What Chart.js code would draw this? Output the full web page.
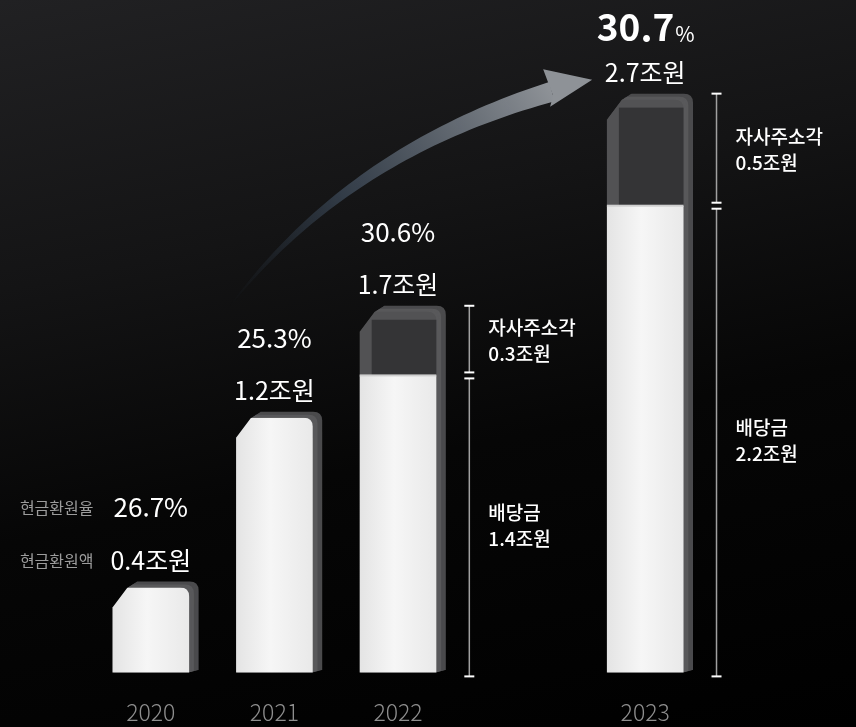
<!DOCTYPE html>
<html lang="ko">
<head>
<meta charset="utf-8">
<title>현금환원</title>
<script src="https://cdn.jsdelivr.net/npm/chart.js@4.4.1/dist/chart.umd.min.js"></script>
<style>
  html, body { margin: 0; padding: 0; }
  body {
    width: 856px; height: 727px; overflow: hidden;
    background: linear-gradient(168deg, #212123 0%, #141415 32%, #060606 60%, #000 100%);
  }
  #wrap { position: relative; width: 856px; height: 727px; }
</style>
</head>
<body>
<div id="wrap"><canvas id="returnChart"></canvas></div>
<script>
// Data (조원, %) - the empty slot keeps room for the 2022 brackets
const years = ['2020', '2021', '2022', '', '2023'];
const dividend = [0.4, 1.2, 1.4, null, 2.2];
const buyback = [null, null, 0.3, null, 0.5];
const returnRate = [26.7, 25.3, 30.6, null, 30.7];

const FONT = '"Noto Sans CJK KR", "Noto Sans", sans-serif';

function barShape(ctx, xl, xr, top, base) {
    const cx = 15, cy = 20, r = 9;
    ctx.beginPath();
    ctx.moveTo(xl, base);
    ctx.lineTo(xl, top + cy);
    ctx.lineTo(xl + cx, top);
    ctx.lineTo(xr - r, top);
    ctx.quadraticCurveTo(xr, top, xr, top + r);
    ctx.lineTo(xr, base);
    ctx.closePath();
}

function drawArrow(ctx, p0, c, p2) {
    const pt = t => ({
        x: (1 - t) * (1 - t) * p0.x + 2 * (1 - t) * t * c.x + t * t * p2.x,
        y: (1 - t) * (1 - t) * p0.y + 2 * (1 - t) * t * c.y + t * t * p2.y
    });
    const tan = t => {
        const dx = 2 * (1 - t) * (c.x - p0.x) + 2 * t * (p2.x - c.x);
        const dy = 2 * (1 - t) * (c.y - p0.y) + 2 * t * (p2.y - c.y);
        const l = Math.hypot(dx, dy);
        return { x: dx / l, y: dy / l };
    };
    const left = [], right = [];
    for (let i = 0; i <= 50; i++) {
        const t = i / 50, p = pt(t), d = tan(t);
        const hw = 0.5 + 9.5 * t;
        left.push({ x: p.x - d.y * hw, y: p.y + d.x * hw });
        right.push({ x: p.x + d.y * hw, y: p.y - d.x * hw });
    }
    const grad = ctx.createLinearGradient(p0.x, p0.y, p2.x, p2.y);
    grad.addColorStop(0, 'rgba(40,52,66,0)');
    grad.addColorStop(0.4, 'rgba(58,70,84,0.8)');
    grad.addColorStop(1, '#8e9297');
    ctx.fillStyle = grad;
    ctx.beginPath();
    ctx.moveTo(left[0].x, left[0].y);
    left.forEach(p => ctx.lineTo(p.x, p.y));
    for (let i = right.length - 1; i >= 0; i--) ctx.lineTo(right[i].x, right[i].y);
    ctx.closePath();
    ctx.fill();
    // arrow head
    const e = pt(1), d = tan(1);
    const tip = { x: e.x + d.x * 42, y: e.y + d.y * 42 };
    ctx.fillStyle = '#8e9297';
    ctx.beginPath();
    ctx.moveTo(tip.x, tip.y);
    ctx.lineTo(e.x - d.y * 14 - d.x * 6, e.y + d.x * 14 - d.y * 6);
    ctx.lineTo(e.x - d.y * 4, e.y + d.x * 4);
    ctx.lineTo(e.x + d.y * 24 - d.x * 2, e.y - d.x * 24 - d.y * 2);
    ctx.closePath();
    ctx.fill();
}

const bars3d = {
    id: 'bars3d',
    afterDatasetsDraw(chart) {
        const ctx = chart.ctx;
        const divMeta = chart.getDatasetMeta(0);
        const bbMeta = chart.getDatasetMeta(1);
        const geo = [];
        years.forEach((yr, i) => {
            if (dividend[i] == null) { geo.push(null); return; }
            const d = divMeta.data[i];
            const b = buyback[i] != null ? bbMeta.data[i] : null;
            const w = d.width, xl = d.x - w / 2, xr = d.x + w / 2, base = d.base;
            const top = b ? b.y : d.y;
            geo.push({ x: d.x, xl, xr, base, top, split: b ? b.base : null });

            ctx.save();
            // extrusion (side + top rim)
            for (let k = 10; k >= 1; k--) {
                ctx.fillStyle = k > 5 ? '#4b4b4d' : '#59595b';
                barShape(ctx, xl + k * 0.95, xr + k * 0.95, top - k * 0.6, base - k * 0.25);
                ctx.fill();
            }
            // white front (dividend)
            ctx.save();
            ctx.beginPath();
            ctx.rect(xl - 2, d.y, w + 4, base - d.y + 2);
            ctx.clip();
            const g = ctx.createLinearGradient(xl, 0, xr, 0);
            g.addColorStop(0, '#e4e4e4');
            g.addColorStop(0.45, '#f6f6f6');
            g.addColorStop(1, '#e9e9e9');
            ctx.fillStyle = g;
            barShape(ctx, xl, xr, top, base);
            ctx.fill();
            ctx.restore();
            // dark glass front (buyback)
            if (b) {
                ctx.save();
                ctx.beginPath();
                ctx.rect(xl - 2, b.y - 2, w + 4, b.base - b.y + 2);
                ctx.clip();
                ctx.fillStyle = '#525254';
                barShape(ctx, xl, xr, top, b.base);
                ctx.fill();
                ctx.fillStyle = '#343436';
                ctx.fillRect(xl + 12, top + 8, w - 12, b.base - top - 8);
                ctx.restore();
                ctx.fillStyle = '#cfcfcf';
                ctx.fillRect(xl, b.base - 1, w, 2);
            }
            ctx.restore();
        });

        // growth arrow from 2021 to 2023
        const g1 = geo[1], g4 = geo[4];
        const p0 = { x: g1.xl - 6, y: g1.top - 112 };
        const p2 = { x: g4.xl - 55, y: g4.top - 8 };
        const c = { x: p0.x + (p2.x - p0.x) * 0.37, y: p0.y - (p0.y - p2.y) * 0.72 };
        drawArrow(ctx, p0, c, p2);

        // value labels above bars
        ctx.save();
        ctx.textBaseline = 'middle';
        ctx.textAlign = 'center';
        ctx.fillStyle = '#ffffff';
        geo.forEach((gm, i) => {
            if (!gm) return;
            const total = (dividend[i] || 0) + (buyback[i] || 0);
            ctx.font = '400 25px ' + FONT;
            ctx.fillText(total.toFixed(1) + '조원', gm.x, gm.top - 27);
            if (i === 4) {
                ctx.font = '700 37px ' + FONT;
                const num = returnRate[i].toFixed(1);
                const nw = ctx.measureText(num).width;
                ctx.font = '400 21px ' + FONT;
                const pw = ctx.measureText('%').width;
                ctx.textAlign = 'left';
                ctx.font = '700 37px ' + FONT;
                ctx.fillText(num, gm.x - (nw + pw) / 2, gm.top - 73);
                ctx.font = '400 21px ' + FONT;
                ctx.fillText('%', gm.x - (nw + pw) / 2 + nw + 1, gm.top - 66);
                ctx.textAlign = 'center';
            } else {
                ctx.font = '400 26px ' + FONT;
                ctx.fillText(returnRate[i].toFixed(1) + '%', gm.x, gm.top - 80);
            }
        });
        // row captions left of 2020
        const g0 = geo[0];
        ctx.textAlign = 'right';
        ctx.fillStyle = '#9c9c9c';
        ctx.font = '400 16px ' + FONT;
        ctx.fillText('현금환원율', g0.xl - 19, g0.top - 80);
        ctx.fillText('현금환원액', g0.xl - 19, g0.top - 27);

        // brackets for split bars
        geo.forEach((gm, i) => {
            if (!gm || gm.split == null) return;
            const lx = gm.xr + 33;
            const y0 = gm.top - 6, y1 = gm.base + 4, s = gm.split;
            ctx.strokeStyle = '#a0a0a0';
            ctx.lineWidth = 1.5;
            ctx.beginPath();
            ctx.moveTo(lx, y0); ctx.lineTo(lx, s - 3);
            ctx.moveTo(lx, s + 3); ctx.lineTo(lx, y1);
            ctx.stroke();
            ctx.fillStyle = '#ffffff';
            [y0, s - 3, s + 3, y1].forEach(ty => ctx.fillRect(lx - 5, ty - 1, 10, 2));
            ctx.textAlign = 'left';
            ctx.font = '500 19px ' + FONT;
            const tx = lx + 19;
            const mTop = (y0 + s) / 2, mBot = (s + y1) / 2;
            ctx.fillText('자사주소각', tx, mTop - 13);
            ctx.fillText(buyback[i].toFixed(1) + '조원', tx, mTop + 13);
            ctx.fillText('배당금', tx, mBot - 13);
            ctx.fillText(dividend[i].toFixed(1) + '조원', tx, mBot + 13);
        });
        ctx.restore();
    }
};

const ctx = document.getElementById('returnChart').getContext('2d');
const returnChart = new Chart(ctx, {
    type: 'bar',
    data: {
        labels: years,
        datasets: [{
            label: '배당금',
            data: dividend,
            backgroundColor: 'rgba(0,0,0,0)',
            borderWidth: 0
        }, {
            label: '자사주소각',
            data: buyback,
            backgroundColor: 'rgba(0,0,0,0)',
            borderWidth: 0
        }]
    },
    options: {
        responsive: true,
        maintainAspectRatio: false,
        animation: false,
        layout: {
            padding: { left: 89, right: 149, top: 36, bottom: -25 }
        },
        datasets: {
            bar: { barPercentage: 0.62, categoryPercentage: 1 }
        },
        plugins: {
            legend: { display: false },
            tooltip: { enabled: false }
        },
        scales: {
            x: {
                stacked: true,
                grid: { display: false, drawTicks: false },
                border: { display: false },
                ticks: {
                    color: '#8e8e8e',
                    padding: 26,
                    font: { family: FONT, size: 23, weight: '300' }
                }
            },
            y: {
                stacked: true,
                display: false,
                min: 0,
                max: 3.0
            }
        }
    },
    plugins: [bars3d]
});
</script>
</body>
</html>
